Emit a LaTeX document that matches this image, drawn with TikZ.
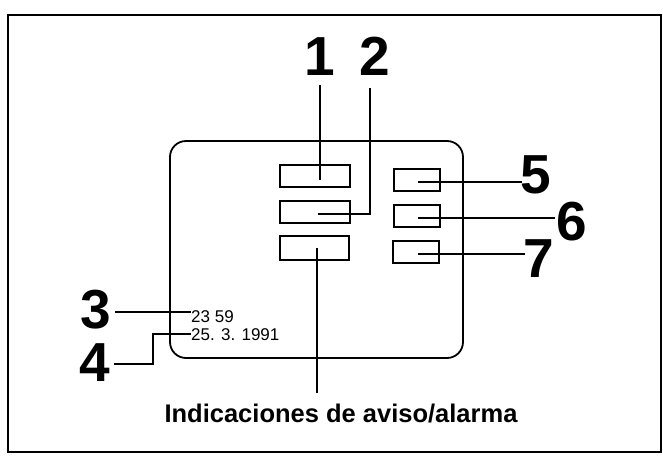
\documentclass[tikz,border=0pt]{standalone}
\usepackage{fontspec}
\setmainfont{Liberation Sans}
\begin{document}
\begin{tikzpicture}[x=1pt,y=-1pt,
  lamp/.style={draw,line width=1.6pt,minimum width=#1,minimum height=22pt,inner sep=0pt,anchor=north west},
  lead/.style={line width=1.5pt},
  bignum/.style={font=\fontsize{55}{55}\selectfont\bfseries,inner sep=0pt,anchor=base,text height=39pt,text depth=0pt},
  small/.style={font=\fontsize{17}{17}\selectfont,inner sep=0pt,anchor=base west,text height=12pt,text depth=0pt}]
\useasboundingbox (0,0) rectangle (663,458);
% outer frame
\draw[line width=2.6pt] (8,15) rectangle (661,452);
% panel
\draw[line width=1.8pt,rounded corners=16pt] (170,141) rectangle (463,358);
% lamps
\node[lamp=70pt] (b1) at (279,164) {};
\node[lamp=70pt] (b2) at (279,200) {};
\node[lamp=69pt,minimum height=24pt] (b3) at (279,235) {};
\node[lamp=46pt] (b5) at (393,168) {};
\node[lamp=46pt] (b6) at (393,204) {};
\node[lamp=46pt] (b7) at (392,240) {};
% inner ends
\coordinate (e1) at (320,180);
\coordinate (e2) at (318,214);
\coordinate (e3) at (317,248);
\coordinate (e5) at (418,182);
\coordinate (e6) at (418,218);
\coordinate (e7) at (418,254);
% labels
\node[bignum] (n1) at (320,75) {1};
\node[bignum] (n2) at (375,75) {2};
\node[bignum] (n5) at (536,193) {5};
\node[bignum] (n6) at (572,240) {6};
\node[bignum] (n7) at (539,277) {7};
\node[bignum] (n3) at (96,328) {3};
\node[bignum] (n4) at (95,381) {4};
\node[small] (t3) at (191,322) {23 59};
\node[small] (t4) at (191,340) {25. 3. 1991};
\node[font=\fontsize{25.5}{25.5}\selectfont\bfseries,inner sep=0pt,anchor=base] (alarm) at (341,422) {Indicaciones de aviso/alarma};
% leaders
\draw[lead] (n1.south |- 0,85) -- (e1);
\draw[lead] (370,88) |- (e2);
\draw[lead] (e3) -- (e3 |- 0,393);
\draw[lead] (e5) -- (522,182);
\draw[lead] (e6) -- (555,218);
\draw[lead] (e7) -- (525,254);
\draw[lead] (n3.east |- 0,312) ++(4,0) -- (t3.west |- 0,312);
\draw[lead] (n4.east |- 0,364) ++(4,0) -- (153,364) |- (t4.west |- 0,334);
\end{tikzpicture}
\end{document}
